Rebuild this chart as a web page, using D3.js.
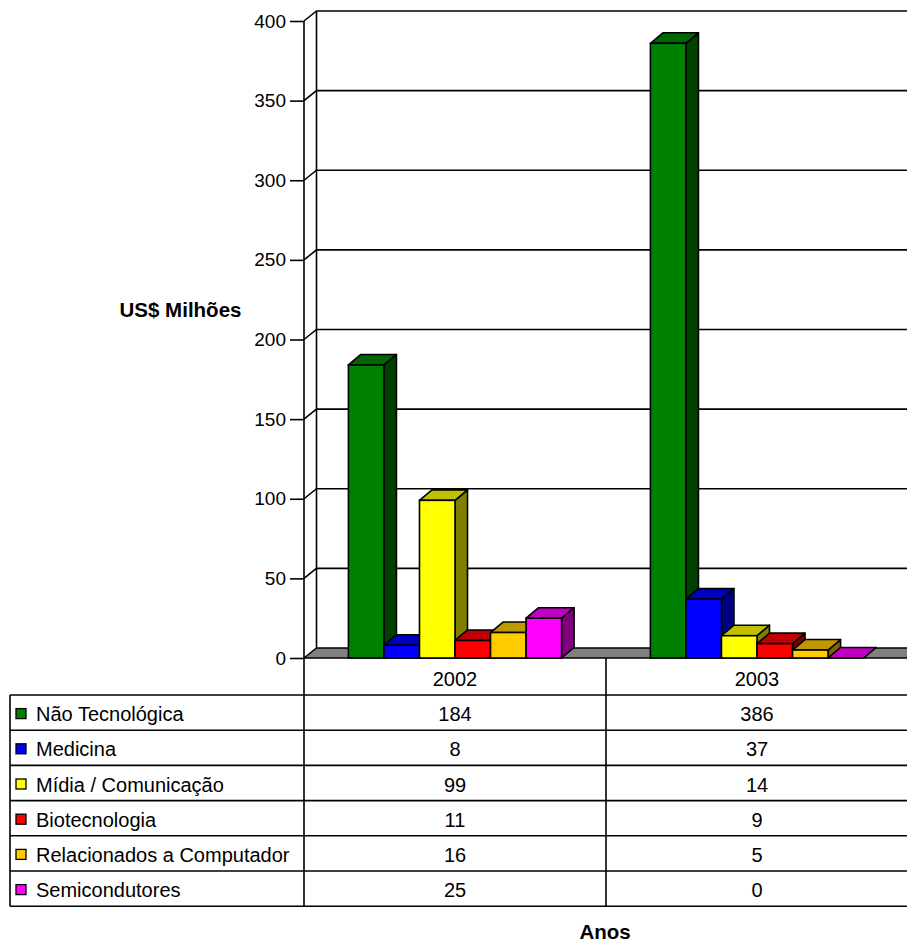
<!DOCTYPE html>
<html>
<head>
<meta charset="utf-8">
<script src="https://cdn.jsdelivr.net/npm/d3@7"></script>
<style>
  body { margin: 0; background: #fff; }
  text { font-family: "Liberation Sans", Arial, sans-serif; }
</style>
</head>
<body>
<div id="chart-area"></div>
<script>
var years = ["2002", "2003"];
var series = ["Não Tecnológica", "Medicina", "Mídia / Comunicação", "Biotecnologia", "Relacionados a Computador", "Semicondutores"];
var values2002 = [184, 8, 99, 11, 16, 25];
var values2003 = [386, 37, 14, 9, 5, 0];
var yTicks = [0, 50, 100, 150, 200, 250, 300, 350, 400];
var frontColors = ["#008000", "#0000ff", "#ffff00", "#ff0000", "#ffcc00", "#ff00ff"];
var topColors = ["#006600", "#0000c0", "#c0c000", "#c00000", "#c09900", "#c000c0"];
var sideColors = ["#004000", "#000080", "#808000", "#800000", "#806600", "#800080"];

var width = 907, height = 942;
var depth = {dx: 12.5, dy: -10};
var barDepth = {dx: 12.5, dy: -10.5};

var svg = d3.select("#chart-area").append("svg")
    .attr("width", width)
    .attr("height", height);

var x0 = d3.scaleBand().domain(years).range([304, 908]);
var x1 = d3.scaleBand().domain(series).range([0, x0.bandwidth()]).paddingOuter(1.25);
var y = d3.scaleLinear().domain([0, 400]).range([658, 21]);

var valuesByYear = {"2002": values2002, "2003": values2003};
var data = [];
years.forEach((yr) => {
    series.forEach((s, i) => {
        data.push({year: yr, name: s, i: i, value: valuesByYear[yr][i]});
    });
});

var plot = svg.append("g");
var y0 = y(0);

// back wall + side wall gridlines
plot.append("line")
    .attr("x1", 304 + depth.dx).attr("x2", 304 + depth.dx)
    .attr("y1", y(400) + depth.dy).attr("y2", y0 + depth.dy)
    .attr("stroke", "#000").attr("stroke-width", 1.6);

plot.selectAll(".grid").data(yTicks.slice(1)).enter().append("path")
    .attr("class", "grid")
    .attr("d", (d) => "M304," + y(d) + "L" + (304 + depth.dx) + "," + (y(d) + depth.dy) + "L910," + (y(d) + depth.dy))
    .attr("fill", "none").attr("stroke", "#000").attr("stroke-width", 1.6);

// floor
plot.append("path")
    .attr("d", "M304," + y0 + "L" + (304 + depth.dx) + "," + (y0 + depth.dy) + "L910," + (y0 + depth.dy) + "L910," + y0 + "Z")
    .attr("fill", "#808080").attr("stroke", "#000").attr("stroke-width", 1.6);

// y axis front line and ticks
var yAxis = d3.axisLeft(y).tickValues(yTicks).tickSize(14).tickPadding(4);
var yAxisG = svg.append("g")
    .attr("transform", "translate(304,0)")
    .call(yAxis);
yAxisG.select(".domain").remove();
yAxisG.append("line")
    .attr("y1", y(400)).attr("y2", y0)
    .attr("stroke", "#000").attr("stroke-width", 1.6);
yAxisG.selectAll(".tick line").attr("stroke-width", 1.6);
yAxisG.selectAll(".tick text")
    .attr("font-size", "19px")
    .attr("font-family", "Liberation Sans, Arial, sans-serif")
    .attr("fill", "#000");

// bars
var bars = plot.selectAll(".bar").data(data).enter().append("g").attr("class", "bar");
function bx(d) { return x0(d.year) + x1(d.name); }
var bw = x1.bandwidth();

bars.append("path")
    .attr("d", (d) => {
        var l = bx(d), r = l + bw, t = y(d.value);
        return "M" + r + "," + t + "L" + (r + barDepth.dx) + "," + (t + barDepth.dy) +
            "L" + (r + barDepth.dx) + "," + (y0 + barDepth.dy) + "L" + r + "," + y0 + "Z";
    })
    .attr("fill", (d) => sideColors[d.i])
    .attr("stroke", "#000").attr("stroke-width", 1.6).attr("stroke-linejoin", "round");

bars.append("path")
    .attr("d", (d) => {
        var l = bx(d), r = l + bw, t = y(d.value);
        return "M" + l + "," + t + "L" + (l + barDepth.dx) + "," + (t + barDepth.dy) +
            "L" + (r + barDepth.dx) + "," + (t + barDepth.dy) + "L" + r + "," + t + "Z";
    })
    .attr("fill", (d) => topColors[d.i])
    .attr("stroke", "#000").attr("stroke-width", 1.6).attr("stroke-linejoin", "round");

bars.filter((d) => d.value > 0).append("rect")
    .attr("x", (d) => bx(d))
    .attr("y", (d) => y(d.value))
    .attr("width", bw)
    .attr("height", (d) => y0 - y(d.value))
    .attr("fill", (d) => frontColors[d.i])
    .attr("stroke", "#000").attr("stroke-width", 1.6);

// data table
var rowTop = 695, rowH = 35.2;
var table = svg.append("g");
var ln = (x1_, y1_, x2_, y2_) => table.append("line")
    .attr("x1", x1_).attr("y1", y1_).attr("x2", x2_).attr("y2", y2_)
    .attr("stroke", "#000").attr("stroke-width", 1.6);

for (var r = 0; r <= series.length; r++) ln(10, rowTop + r * rowH, 910, rowTop + r * rowH);
ln(10, rowTop, 10, rowTop + series.length * rowH);
ln(304, y0, 304, rowTop + series.length * rowH);
ln(606, y0, 606, rowTop + series.length * rowH);

table.selectAll(".yr").data(years).enter().append("text")
    .attr("x", (d) => x0(d) + x0.bandwidth() / 2)
    .attr("y", 686)
    .attr("text-anchor", "middle").attr("font-size", "20px")
    .text((d) => d);

var rows = table.selectAll(".row").data(series).enter().append("g")
    .attr("transform", (d, i) => "translate(0," + (rowTop + i * rowH + rowH / 2) + ")");
rows.append("rect")
    .attr("x", 16).attr("y", -4).attr("width", 10).attr("height", 10)
    .attr("fill", (d, i) => frontColors[i])
    .attr("stroke", "#000").attr("stroke-width", 1.3);
rows.append("text")
    .attr("x", 36).attr("y", 8.5).attr("font-size", "20px")
    .text((d) => d);
years.forEach((yr) => {
    rows.append("text")
        .attr("x", x0(yr) + x0.bandwidth() / 2).attr("y", 8.5)
        .attr("text-anchor", "middle").attr("font-size", "20px")
        .text((d, i) => valuesByYear[yr][i]);
});

// axis titles
svg.append("text")
    .attr("x", 180.5).attr("y", 317)
    .attr("text-anchor", "middle").attr("font-size", "20.5px").attr("font-weight", "bold")
    .text("US$ Milhões");
svg.append("text")
    .attr("x", 605).attr("y", 939)
    .attr("text-anchor", "middle").attr("font-size", "20.5px").attr("font-weight", "bold")
    .text("Anos");
</script>
</body>
</html>
